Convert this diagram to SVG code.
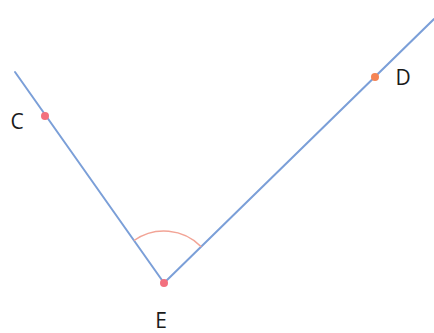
<svg xmlns="http://www.w3.org/2000/svg" width="434" height="333" viewBox="0 0 434 333">
<style>
.ray{stroke:#7b9fd8;stroke-width:2;fill:none;stroke-linecap:round}
.arc{stroke:#f2a496;stroke-width:1.5;fill:none}
.lbl{font-family:"Open Sans","Liberation Sans",sans-serif;font-size:21px;fill:#1a1a1a}
</style>
<rect width="434" height="333" fill="#ffffff"/>
<g id="connectors">
<line class="ray" x1="164" y1="283" x2="15" y2="72"/>
<line class="ray" x1="164" y1="283" x2="434" y2="19"/>
<path class="arc" d="M134,240.5 A52,52 0 0 1 201.2,246.7"/>
</g>
<g id="C">
<circle cx="45" cy="116" r="4" fill="#f2707e"/>
<text class="lbl" x="17" y="129" text-anchor="middle">C</text>
</g>
<g id="D">
<circle cx="375" cy="77" r="4" fill="#f58455"/>
<text class="lbl" x="403" y="85" text-anchor="middle">D</text>
</g>
<g id="E">
<circle cx="164" cy="283" r="4" fill="#f2707e"/>
<text class="lbl" x="161" y="328" text-anchor="middle">E</text>
</g>
</svg>
